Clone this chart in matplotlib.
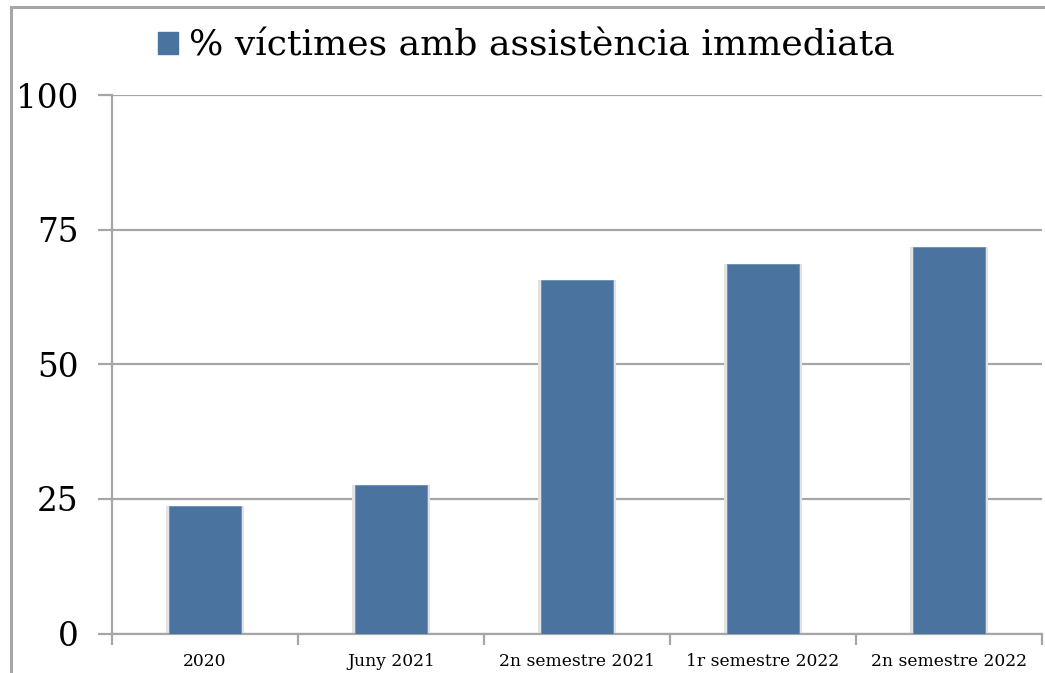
import matplotlib.pyplot as plt
from matplotlib.patches import Rectangle, Patch

categories = ['2020', 'Juny 2021', '2n semestre 2021', '1r semestre 2022', '2n semestre 2022']
values = [23.7, 27.6, 65.7, 68.6, 71.8]
yticks = [0, 25, 50, 75, 100]
series_name = '% víctimes amb assistència immediata'

bar_color = '#4A73A0'
grey = '#A6A6A6'
plt.rcParams['font.family'] = ['DejaVu Serif']

fig = plt.figure(figsize=(10.45, 6.73), dpi=100)
ax = fig.add_axes([112 / 1045, 1 - 633.6 / 673, 930 / 1045, (633.6 - 95) / 673])

# outer frame of the chart (cropped on the right and bottom)
fig.patches.append(Rectangle((11 / 1045, -0.1), 1.2, 1 - 7 / 673 + 0.1,
                             transform=fig.transFigure, fill=False,
                             edgecolor=grey, linewidth=2.2))

x = range(len(categories))
# soft shadow behind the bars
ax.bar(x, values, width=0.415, color='#E2E2E2', zorder=2)
ax.bar(x, values, width=0.39, color=bar_color, edgecolor='#6D90B8',
       linewidth=0.6, zorder=3)

ax.set_xlim(-0.5, len(categories) - 0.5)
ax.set_ylim(0, 100)
ax.set_yticks(yticks)
ax.set_yticklabels([str(v) for v in yticks], fontsize=23.5)
ax.yaxis.grid(True, color=grey, linewidth=1.6, zorder=1)
ax.set_axisbelow(True)

ax.set_xticks(list(x))
ax.set_xticklabels(categories, fontsize=12.3)
ax.set_xticks([i - 0.5 for i in range(len(categories) + 1)], minor=True)
ax.tick_params(axis='x', which='major', length=0, pad=14)
ax.tick_params(axis='x', which='minor', length=8, width=1.6, color=grey, direction='out')
ax.tick_params(axis='y', length=10, width=1.6, color=grey, pad=14)

for side in ['top', 'right']:
    ax.spines[side].set_visible(False)
for side in ['left', 'bottom']:
    ax.spines[side].set_color(grey)
    ax.spines[side].set_linewidth(1.6)

fig.legend(handles=[Patch(color=bar_color, label=series_name)],
           loc='center left', bbox_to_anchor=(158 / 1045, 1 - 46 / 673),
           frameon=False, fontsize=26, handlelength=0.55, handleheight=0.55,
           handletextpad=0.3, borderaxespad=0, borderpad=0)

fig.savefig('out.png', dpi=100)
